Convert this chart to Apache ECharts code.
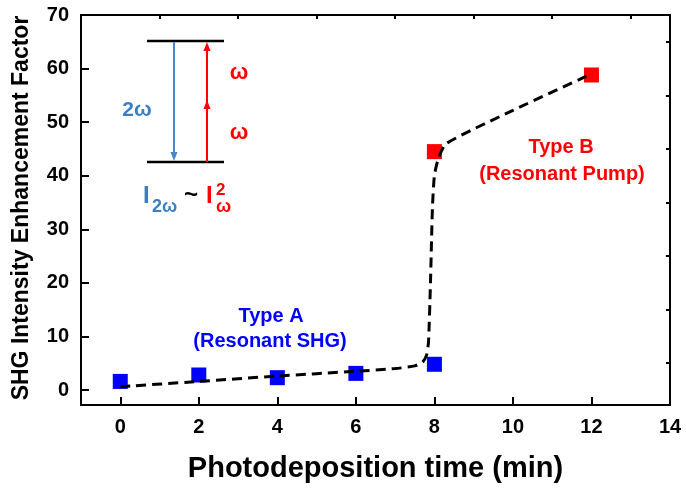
<!DOCTYPE html>
<html>
<head>
<meta charset="utf-8">
<script src="https://cdn.jsdelivr.net/npm/echarts@6/dist/echarts.min.js"></script>
<style>
  html, body { margin: 0; padding: 0; background: #fff; }
  #chart { width: 686px; height: 488px; }
</style>
</head>
<body>
<div id="chart"></div>
<script>
// Type A (blue) and Type B (red) points
const blueX = [0, 2, 4, 6, 8]
const blueY = [1.6, 2.8, 2.3, 3.1, 4.8]
const redX = [8, 12]
const redY = [44.5, 58.8]
// dashed guide curve
const fitX = [0, 2, 4, 6, 7, 7.5, 7.7, 7.8, 7.85, 7.9, 7.95, 8.0, 8.1, 8.3, 10, 12]
const fitY = [0.6, 1.6, 2.6, 3.5, 4.0, 4.5, 5.2, 6.5, 9, 20, 34, 40, 43.2, 46, 52.2, 59]
// tick positions
const xMajor = [0, 2, 4, 6, 8, 10, 12, 14]
const xMinor = [1, 3, 5, 7, 9, 11, 13]
const yMajor = [0, 10, 20, 30, 40, 50, 60, 70]
const yMinor = [5, 15, 25, 35, 45, 55, 65]

const font = '"Liberation Sans", Arial, sans-serif'
const blueTxt = '#3a7fc4'

function pairs(xs, ys) {
  return xs.map((x, i) => [x, ys[i]])
}

function majorAxis(min, max, ticks, extra) {
  return Object.assign({
    type: 'value',
    min: min,
    max: max,
    axisLine: { show: true, onZero: false, lineStyle: { color: '#000', width: 2 } },
    axisTick: { inside: true, length: 8, customValues: ticks, lineStyle: { color: '#000', width: 2 } },
    axisLabel: { customValues: ticks, color: '#000', fontSize: 20, fontWeight: 'bold', fontFamily: font, margin: 12 },
    splitLine: { show: false }
  }, extra)
}

function minorAxis(min, max, ticks) {
  return {
    type: 'value',
    min: min,
    max: max,
    axisLine: { show: false, onZero: false },
    axisTick: { inside: true, length: 4, customValues: ticks, lineStyle: { color: '#000', width: 2 } },
    axisLabel: { show: false },
    splitLine: { show: false }
  }
}

const chart = echarts.init(document.getElementById('chart'))

chart.setOption({
  backgroundColor: '#fff',
  animation: false,
  grid: {
    left: 81, right: 16, top: 15, bottom: 70,
    show: true, borderColor: '#000', borderWidth: 2
  },
  xAxis: [
    majorAxis(-1, 14, xMajor, {
      name: 'Photodeposition time (min)',
      nameLocation: 'middle',
      nameGap: 49,
      nameTextStyle: { color: '#000', fontSize: 29, fontWeight: 'bold', fontFamily: font }
    }),
    minorAxis(-1, 14, xMinor)
  ],
  yAxis: [
    majorAxis(-2.8, 70, yMajor, {}),
    minorAxis(-2.8, 70, yMinor)
  ],
  series: [
    {
      type: 'scatter',
      symbol: 'rect',
      symbolSize: 15,
      itemStyle: { color: '#0000ff', opacity: 1 },
      data: pairs(blueX, blueY)
    },
    {
      type: 'scatter',
      symbol: 'rect',
      symbolSize: 15,
      itemStyle: { color: '#ff0000', opacity: 1 },
      data: pairs(redX, redY)
    },
    {
      type: 'line',
      showSymbol: false,
      smooth: 0.2,
      z: 5,
      lineStyle: { color: '#000', width: 3, type: [10, 6] },
      data: pairs(fitX, fitY)
    }
  ],
  graphic: [
    // y axis title
    {
      type: 'text', x: 22, y: 208, rotation: Math.PI / 2,
      style: {
        text: 'SHG Intensity Enhancement Factor', font: 'bold 23px ' + font,
        fill: '#000', align: 'center', verticalAlign: 'middle'
      }
    },
    // annotations
    { type: 'text', x: 271, y: 316, style: { text: 'Type A', font: 'bold 20px ' + font, fill: '#0000ff', align: 'center', verticalAlign: 'middle' } },
    { type: 'text', x: 270, y: 341, style: { text: '(Resonant SHG)', font: 'bold 20px ' + font, fill: '#0000ff', align: 'center', verticalAlign: 'middle' } },
    { type: 'text', x: 561, y: 147, style: { text: 'Type B', font: 'bold 20px ' + font, fill: '#ff0000', align: 'center', verticalAlign: 'middle' } },
    { type: 'text', x: 562, y: 174, style: { text: '(Resonant Pump)', font: 'bold 20px ' + font, fill: '#ff0000', align: 'center', verticalAlign: 'middle' } },
    // energy level diagram
    { type: 'line', shape: { x1: 147, y1: 41, x2: 224, y2: 41 }, style: { stroke: '#000', lineWidth: 2.5 } },
    { type: 'line', shape: { x1: 147, y1: 162, x2: 224, y2: 162 }, style: { stroke: '#000', lineWidth: 2.5 } },
    { type: 'line', shape: { x1: 174, y1: 42, x2: 174, y2: 154 }, style: { stroke: '#4a86c8', lineWidth: 2 } },
    { type: 'polygon', shape: { points: [[170.5, 152], [177.5, 152], [174, 161]] }, style: { fill: '#4a86c8' } },
    { type: 'line', shape: { x1: 207, y1: 162, x2: 207, y2: 49 }, style: { stroke: '#ff0000', lineWidth: 2 } },
    { type: 'polygon', shape: { points: [[203.5, 51], [210.5, 51], [207, 42]] }, style: { fill: '#ff0000' } },
    { type: 'polygon', shape: { points: [[203.5, 109], [210.5, 109], [207, 100]] }, style: { fill: '#ff0000' } },
    { type: 'text', x: 137, y: 110, style: { text: '2ω', font: 'bold 21px ' + font, fill: blueTxt, align: 'center', verticalAlign: 'middle' } },
    { type: 'text', x: 239, y: 73, style: { text: 'ω', font: 'bold 22px ' + font, fill: '#ff0000', align: 'center', verticalAlign: 'middle' } },
    { type: 'text', x: 239, y: 133, style: { text: 'ω', font: 'bold 22px ' + font, fill: '#ff0000', align: 'center', verticalAlign: 'middle' } },
    // I_2w ~ I^2_w
    { type: 'text', x: 143, y: 208, style: { text: 'I', font: 'bold 24px ' + font, fill: blueTxt, align: 'left', verticalAlign: 'bottom' } },
    { type: 'text', x: 152, y: 216, style: { text: '2ω', font: 'bold 18px ' + font, fill: blueTxt, align: 'left', verticalAlign: 'bottom' } },
    { type: 'text', x: 184, y: 207, style: { text: '~', font: 'bold 24px ' + font, fill: '#000', align: 'left', verticalAlign: 'bottom' } },
    { type: 'text', x: 206, y: 208, style: { text: 'I', font: 'bold 24px ' + font, fill: '#ff0000', align: 'left', verticalAlign: 'bottom' } },
    { type: 'text', x: 216, y: 199, style: { text: '2', font: 'bold 17px ' + font, fill: '#ff0000', align: 'left', verticalAlign: 'bottom' } },
    { type: 'text', x: 216, y: 216, style: { text: 'ω', font: 'bold 18px ' + font, fill: '#ff0000', align: 'left', verticalAlign: 'bottom' } }
  ]
})
</script>
</body>
</html>
